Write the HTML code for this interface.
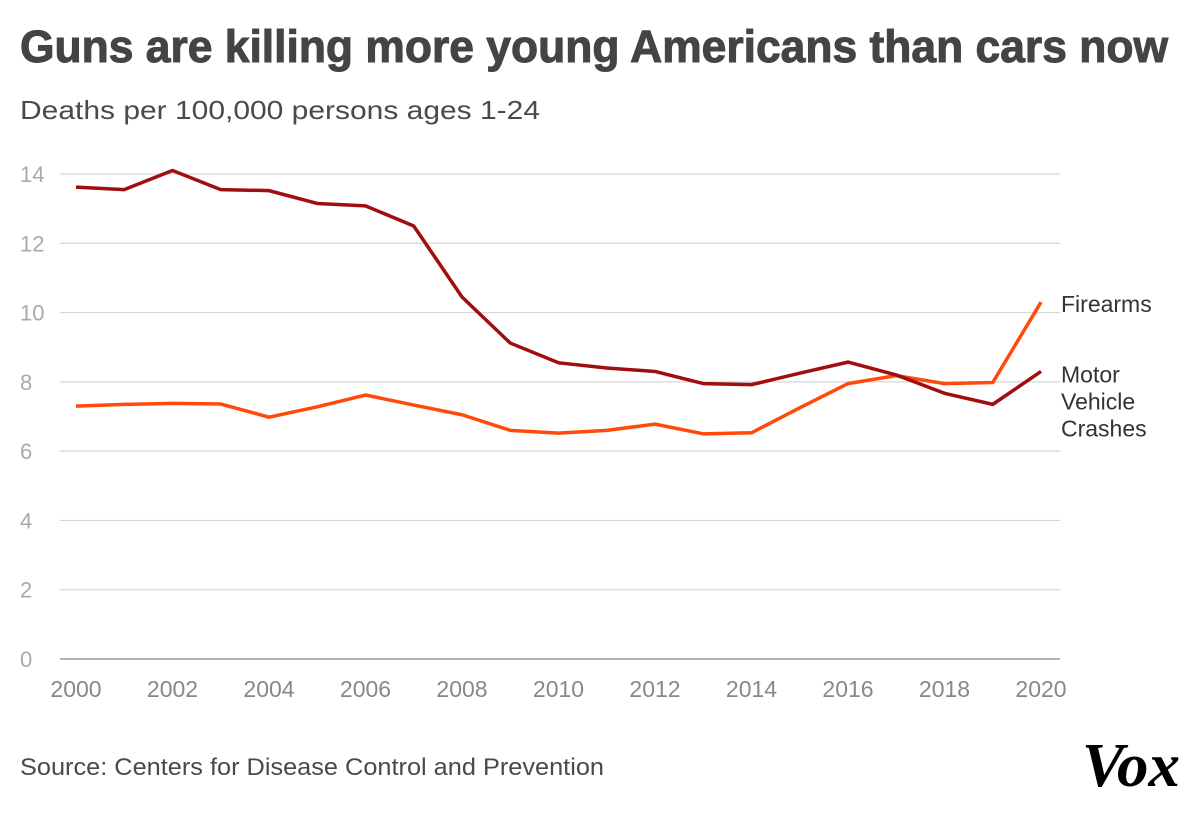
<!DOCTYPE html>
<html><head><meta charset="utf-8"><style>
html,body{margin:0;padding:0;background:#fff;width:1200px;height:813px;overflow:hidden}
svg{display:block;font-family:"Liberation Sans",sans-serif}
</style></head><body>
<svg id="chart" width="1200" height="813">
<text x="20" y="62" font-size="45" font-weight="bold" fill="#444" stroke="#444" stroke-width="1" textLength="1148" lengthAdjust="spacingAndGlyphs">Guns are killing more young Americans than cars now</text>
<text x="20" y="119" font-size="26" fill="#4a4a4a" textLength="520" lengthAdjust="spacingAndGlyphs">Deaths per 100,000 persons ages 1-24</text>
<g id="grid"></g><g id="lines"></g><g id="labels"></g>
<text x="20" y="775" font-size="24" fill="#4a4a4a" textLength="584" lengthAdjust="spacingAndGlyphs">Source: Centers for Disease Control and Prevention</text>
<text x="1082" y="786" font-size="62" font-weight="bold" font-style="italic" font-family="Liberation Serif,serif" fill="#000" textLength="98" lengthAdjust="spacingAndGlyphs">Vox</text>
</svg>
<script>
const years=[2000,2001,2002,2003,2004,2005,2006,2007,2008,2009,2010,2011,2012,2013,2014,2015,2016,2017,2018,2019,2020];
const motorVehicle=[13.62,13.55,14.1,13.55,13.52,13.15,13.08,12.5,10.45,9.12,8.55,8.4,8.3,7.95,7.92,8.25,8.57,8.2,7.67,7.35,8.3];
const firearms=[7.3,7.35,7.38,7.36,6.98,7.28,7.62,7.33,7.05,6.6,6.52,6.6,6.78,6.5,6.53,7.25,7.95,8.18,7.95,7.98,10.3];
const yTicks=[0,2,4,6,8,10,12,14];
const xTicks=[2000,2002,2004,2006,2008,2010,2012,2014,2016,2018,2020];
const NS="http://www.w3.org/2000/svg";
const x=v=>76+(v-2000)*(1041-76)/20;
const y=v=>659-v*(659-174)/14;
function mk(t,a,p){const e=document.createElementNS(NS,t);for(const k in a)e.setAttribute(k,a[k]);p.appendChild(e);return e;}
const grid=document.getElementById('grid'),lines=document.getElementById('lines'),labels=document.getElementById('labels');
yTicks.forEach(v=>{
 const l=mk('line',{x1:60,x2:1060,y1:y(v),y2:y(v),stroke:v===0?'#999':'#d6d6d6','stroke-width':v===0?1.5:1.2},grid);
 
 
 const t=mk('text',{x:20,y:y(v)+8,'font-size':22,fill:'#aaa'},grid);t.textContent=v;
 
 
});
xTicks.forEach(v=>{
 const t=mk('text',{x:x(v),y:697,'font-size':23,fill:'#888','text-anchor':'middle'},grid);t.textContent=v;
 
 
});
function series(vals,color,name){
 const p=mk('polyline',{points:vals.map((v,i)=>x(years[i])+','+y(v)).join(' '),fill:'none',stroke:color,'stroke-width':3.5,'stroke-linejoin':'round'},lines);
 
 
}
series(firearms,'#ff4a0a','firearms-line');
series(motorVehicle,'#a00e0e','motor-vehicle-line');
const lf=mk('text',{x:1061,y:y(firearms[20])+10,'font-size':23,fill:'#333'},labels);lf.textContent='Firearms';


['Motor','Vehicle','Crashes'].forEach((s,i)=>{
 const t=mk('text',{x:1061,y:y(motorVehicle[20])+11+i*27,'font-size':23,fill:'#333'},labels);t.textContent=s;
 
 
});
</script>
</body></html>
